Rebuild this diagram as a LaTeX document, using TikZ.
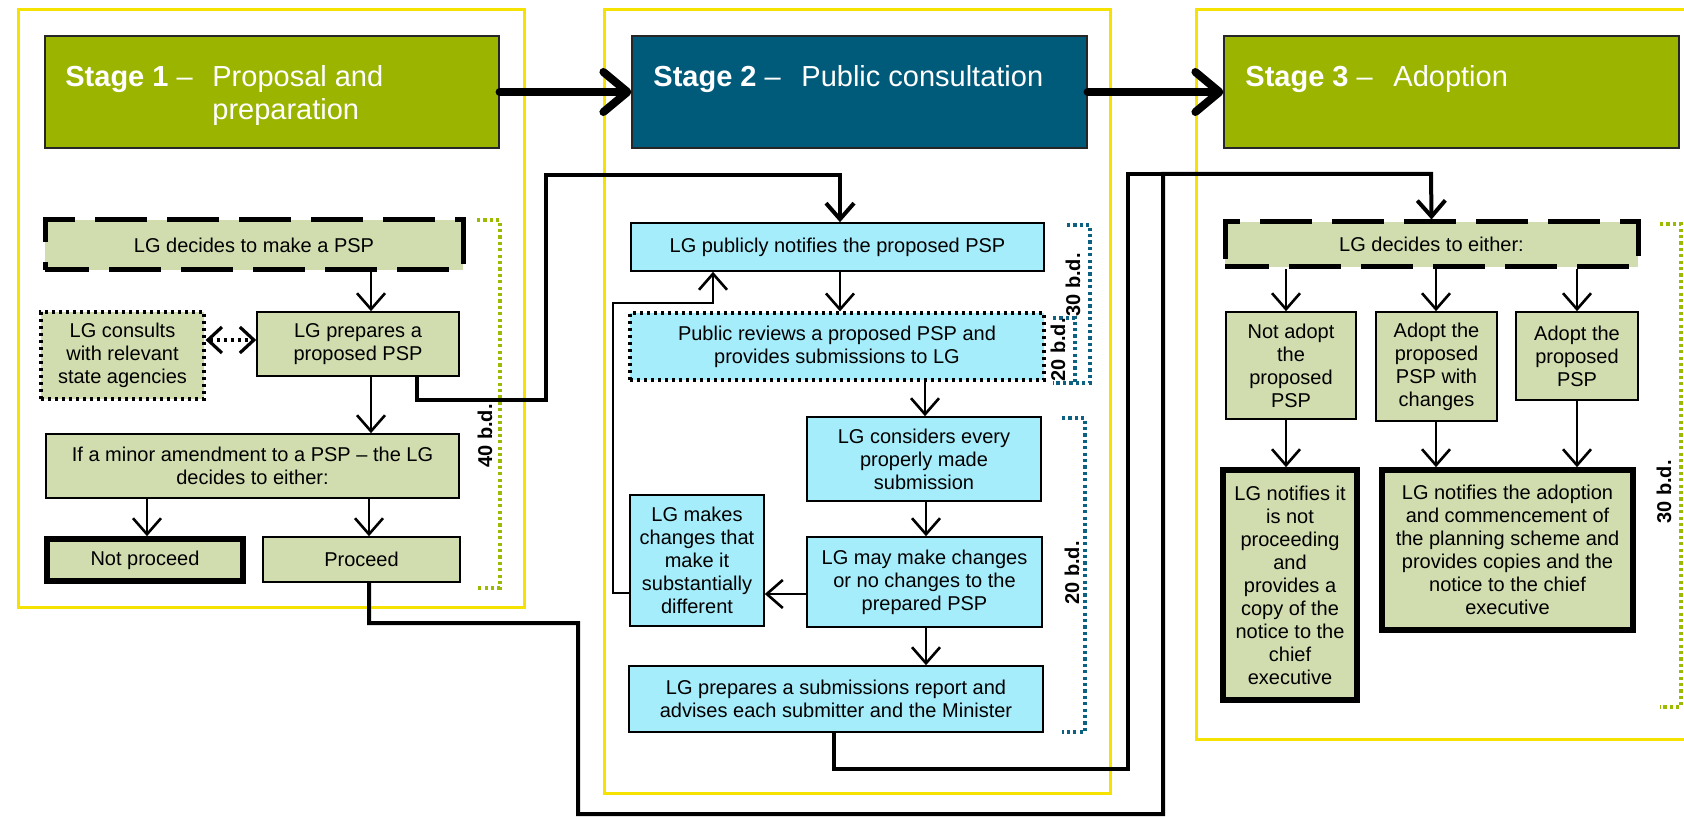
\documentclass[tikz,border=0pt]{standalone}
\usepackage{fontspec}
\setmainfont{Liberation Sans}
\usetikzlibrary{arrows.meta}

\definecolor{hdrolive}{RGB}{155,180,0}
\definecolor{hdrteal}{RGB}{0,91,122}
\definecolor{boxolive}{RGB}{209,221,175}
\definecolor{boxcyan}{RGB}{166,237,251}
\definecolor{frameyellow}{RGB}{245,226,0}
\definecolor{brkgreen}{RGB}{155,187,0}
\definecolor{brkteal}{RGB}{12,96,130}

\tikzset{
  box/.style={draw=black, line width=0.8pt, align=center, inner sep=0pt,
    font=\fontsize{10}{11.5}\selectfont},
  gbox/.style={box, fill=boxolive},
  cbox/.style={box, fill=boxcyan},
  heavybox/.style={line width=2.8pt},
  dashbox/.style={line width=2.5pt, dash pattern=on 26pt off 10pt, dash phase=4pt},
  dotbox/.style={line width=1.6pt, dash pattern=on 1.6pt off 1.9pt},
  hdr/.style={draw=black!85, line width=0.6pt, inner sep=0pt},
  hdrtext/.style={text=white, inner sep=0pt, font=\fontsize{14.5}{16.5}\selectfont},
  stageframe/.style={draw=frameyellow, line width=1.5pt},
  barb/.style={-{Straight Barb[length=8pt,width=14pt]}},
  conn/.style={line width=1.3pt, barb},
  route/.style={line width=2pt, line join=miter},
  bigarrow/.style={line width=4pt, line cap=round,
    -{Straight Barb[length=12pt,width=20pt,round]}},
  brkgreenline/.style={draw=brkgreen, line width=1.6pt, dash pattern=on 1.6pt off 1.6pt},
  brktealline/.style={draw=brkteal, line width=1.6pt, dash pattern=on 1.6pt off 1.6pt},
  bdlabel/.style={rotate=90, inner sep=0pt, font=\bfseries\fontsize{10}{12}\selectfont},
}

\begin{document}
\begin{tikzpicture}[x=0.5pt, y=-0.5pt]
\useasboundingbox (0,0) rectangle (1684,817);

% stage frames
\draw[stageframe] (18,10) rectangle (524,607);
\draw[stageframe] (604,10) rectangle (1110,793);
\draw[stageframe] (1196,10) rectangle (1720,739);

% stage headers
\node[hdr, fill=hdrolive, minimum width=227pt, minimum height=56pt] (h1) at (272,92) {};
\node[hdr, fill=hdrteal,  minimum width=227.5pt, minimum height=56pt] (h2) at (859.5,92) {};
\node[hdr, fill=hdrolive, minimum width=227.5pt, minimum height=56pt] (h3) at (1451.5,92) {};

\node[hdrtext, anchor=base west] (h1a) at (65,87) {\textbf{Stage 1} –};
\node[hdrtext, anchor=base west] (h1b) at (212,87) {Proposal and};
\node[hdrtext, anchor=base west] (h1c) at (212,120) {preparation};
\node[hdrtext, anchor=base west] (h2a) at (653,87) {\textbf{Stage 2} –};
\node[hdrtext, anchor=base west] (h2b) at (801,87) {Public consultation};
\node[hdrtext, anchor=base west] (h3a) at (1245,87) {\textbf{Stage 3} –};
\node[hdrtext, anchor=base west] (h3b) at (1393,87) {Adoption};

\draw[bigarrow] (h1.east) -- (h2.west);
\draw[bigarrow] (h2.east) -- (h3.west);

% ---------- stage 1 ----------
\node[gbox, dashbox, minimum width=209pt, minimum height=25pt] (s1decide) at (254,245)
  {LG decides to make a PSP};
\node[gbox, dotbox, minimum width=81.5pt, minimum height=43.5pt] (s1consult) at (122.5,355.5)
  {LG consults\\with relevant\\state agencies};
\node[gbox, minimum width=101pt, minimum height=32pt] (s1prep) at (358,344)
  {LG prepares a\\proposed PSP};
\node[gbox, minimum width=206.5pt, minimum height=32pt] (s1minor) at (252.5,466)
  {If a minor amendment to a PSP – the LG\\decides to either:};
\node[gbox, heavybox, minimum width=98pt, minimum height=21pt] (s1not) at (145,560)
  {Not proceed};
\node[gbox, minimum width=98.5pt, minimum height=22.5pt] (s1proc) at (361.5,559.5)
  {Proceed};

\draw[conn] (371,0 |- s1decide.south) -- (371,0 |- s1prep.north);
\draw[conn] (371,0 |- s1prep.south) -- (371,0 |- s1minor.north);
\draw[conn] (147,0 |- s1minor.south) -- (147,0 |- s1not.north);
\draw[conn] (369,0 |- s1minor.south) -- (369,0 |- s1proc.north);
\draw[line width=1.6pt, dash pattern=on 1.6pt off 1.9pt,
      {Straight Barb[length=7pt,width=13pt]}-{Straight Barb[length=7pt,width=13pt]}]
  (s1consult.east |- 0,340) -- (s1prep.west |- 0,340);

% 40 business days
\draw[brkgreenline] (477,220) -- (500,220) -- (500,588) -- (477,588);
\node[bdlabel] (bd40) at (485,436) {40 b.d.};

% ---------- stage 2 ----------
\node[cbox, minimum width=206.5pt, minimum height=24pt] (s2notify) at (837.5,247)
  {LG publicly notifies the proposed PSP};
\node[cbox, dotbox, minimum width=207pt, minimum height=33.5pt] (s2review) at (837,346.5)
  {Public reviews a proposed PSP and\\provides submissions to LG};
\node[cbox, minimum width=117pt, minimum height=42pt] (s2consider) at (924,459)
  {LG considers every\\properly made\\submission};
\node[cbox, minimum width=117.5pt, minimum height=45pt] (s2changes) at (924.5,582)
  {LG may make changes\\or no changes to the\\prepared PSP};
\node[cbox, minimum width=67pt, minimum height=65.5pt] (s2subst) at (697,560.5)
  {LG makes\\changes that\\make it\\substantially\\different};
\node[cbox, minimum width=207pt, minimum height=33pt] (s2report) at (836,699)
  {LG prepares a submissions report and\\advises each submitter and the Minister};

\draw[conn] (840,0 |- s2notify.south) -- (840,0 |- s2review.north);
\draw[conn] (925,0 |- s2review.south) -- (925,0 |- s2consider.north);
\draw[conn] (926,0 |- s2consider.south) -- (926,0 |- s2changes.north);
\draw[conn] (926,0 |- s2changes.south) -- (926,0 |- s2report.north);
\draw[conn] (s2changes.west |- 0,594) -- (s2subst.east |- 0,594);
\draw[conn] (s2subst.west |- 0,593) -- (613,593) |- (713,303) -- (713,0 |- s2notify.south);

% business-day brackets of stage 2
\draw[brktealline] (1067,225) -- (1090,225) -- (1090,383) -- (1067,383);
\draw[brktealline] (1053,318) -- (1075,318) -- (1075,383) -- (1053,383);
\node[bdlabel] (bd30b) at (1073,285) {30 b.d.};
\node[bdlabel] (bd20a) at (1058,350) {20 b.d.};
\draw[brktealline] (1062,418) -- (1085,418) -- (1085,732) -- (1062,732);
\node[bdlabel] (bd20b) at (1072,573) {20 b.d.};

% ---------- stage 3 ----------
\node[gbox, dashbox, minimum width=206.5pt, minimum height=22.5pt] (s3decide) at (1431.5,244.5)
  {LG decides to either:};
\node[gbox, minimum width=65pt, minimum height=53.5pt] (s3not) at (1291,365.5)
  {Not adopt\\the\\proposed\\PSP};
\node[gbox, minimum width=60.5pt, minimum height=54.5pt] (s3chg) at (1436.5,366.5)
  {Adopt the\\proposed\\PSP with\\changes};
\node[gbox, minimum width=61pt, minimum height=44pt] (s3adopt) at (1577,356)
  {Adopt the\\proposed\\PSP};
\node[gbox, heavybox, minimum width=67pt, minimum height=115pt] (s3notif1) at (1290,585)
  {LG notifies it\\is not\\proceeding\\and\\provides a\\copy of the\\notice to the\\chief\\executive};
\node[gbox, heavybox, minimum width=125.5pt, minimum height=80pt] (s3notif2) at (1507.5,550)
  {LG notifies the adoption\\and commencement of\\the planning scheme and\\provides copies and the\\notice to the chief\\executive};

\draw[conn] (1286,0 |- s3decide.south) -- (1286,0 |- s3not.north);
\draw[conn] (1436,0 |- s3decide.south) -- (1436,0 |- s3chg.north);
\draw[conn] (1577,0 |- s3decide.south) -- (1577,0 |- s3adopt.north);
\draw[conn] (1286,0 |- s3not.south) -- (1286,0 |- s3notif1.north);
\draw[conn] (1436,0 |- s3chg.south) -- (1436,0 |- s3notif2.north);
\draw[conn] (1577,0 |- s3adopt.south) -- (1577,0 |- s3notif2.north);

% 30 business days
\draw[brkgreenline] (1660,224) -- (1681,224) -- (1681,707) -- (1660,707);
\node[bdlabel] (bd30c) at (1664,492) {30 b.d.};

% ---------- routes between stages ----------
\draw[route, barb] (417,0 |- s1prep.south) |- (546,400) |- (840,175) -- (840,0 |- s2notify.north);
\draw[route] (834,0 |- s2report.south) |- (1128,769) |- (1163,174);
\draw[route, barb] (369,0 |- s1proc.south) |- (578,623) |- (1163,814) |- (1431,174)
  -- (s3decide.north);

\end{tikzpicture}
\end{document}
